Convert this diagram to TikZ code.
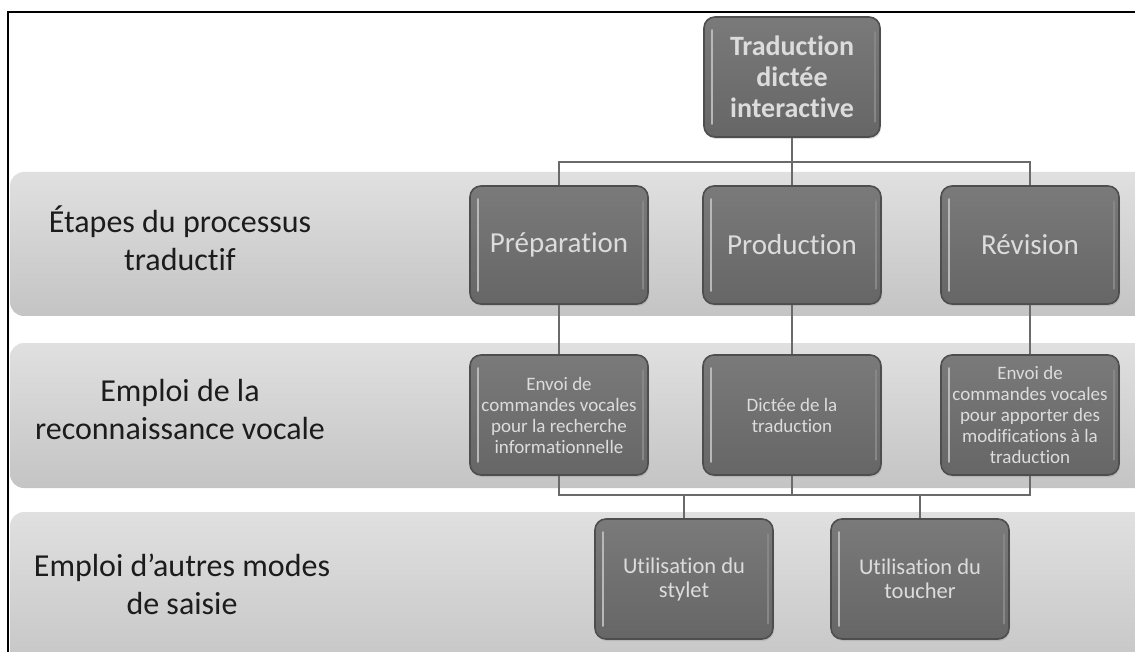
\documentclass[tikz,border=0pt]{standalone}
\usepackage{fontspec}
\setmainfont{Carlito}[Ligatures={NoCommon,NoContextual}]
\usetikzlibrary{shadows,calc}
\definecolor{boxtop}{HTML}{7A7A7A}
\definecolor{boxbot}{HTML}{666666}
\definecolor{boxedge}{HTML}{4E4E4E}
\definecolor{boxtext}{HTML}{DCDCDC}
\definecolor{hlcol}{HTML}{B8B8B8}
\definecolor{bandtop}{HTML}{E0E0E0}
\definecolor{bandbot}{HTML}{C4C4C4}
\definecolor{linkcol}{HTML}{6A6A6A}
\definecolor{labcol}{HTML}{1C1C1C}
\tikzset{
  unitbox/.style={rounded corners=11pt, draw=boxedge, line width=1.6pt,
    top color=boxtop, bottom color=boxbot, text=boxtext, align=center,
    inner sep=2pt, minimum width=178pt, minimum height=120pt,
    drop shadow={opacity=0.25, shadow xshift=1pt, shadow yshift=-2pt}},
  bigtext/.style={font=\fontsize{28}{31}\selectfont\bfseries},
  midtext/.style={font=\fontsize{29}{33}\selectfont},
  smalltext/.style={font=\fontsize{19}{21}\selectfont},
  lowtext/.style={font=\fontsize{22.5}{24}\selectfont},
  bandbox/.style={rounded corners=14pt, top color=bandtop, bottom color=bandbot, draw=none},
  bandlabel/.style={align=center, text=labcol, font=\fontsize{32}{38}\selectfont},
  link/.style={draw=linkcol, line width=2.4pt},
  hl/.style={draw=hlcol, line width=2.4pt, line cap=round},
  hlr/.style={draw=hlcol!40!boxbot, line width=1.6pt, line cap=round},
}
\begin{document}
\begin{tikzpicture}[x=1pt,y=-1pt]
\useasboundingbox (0,0) rectangle (1135,652);
\clip (0,0) rectangle (1135,652);
\fill[white] (0,0) rectangle (1135,652);
% bands
\path[bandbox] (10,172) rectangle (1160,316);
\path[bandbox] (10,343) rectangle (1160,488);
\path[bandbox] (10,512) rectangle (1160,680);
% frame
\draw[black, line width=2.2pt] (8,680) -- (8,12) -- (1140,12);
% band labels
\node[bandlabel] (l1) at (180,238) {Étapes du processus\\traductif};
\node[bandlabel] (l2) at (180,410) {Emploi de la\\reconnaissance vocale};
\node[bandlabel] (l3) at (182,584) {Emploi d’autres modes\\de saisie};
% nodes
\node[unitbox, bigtext, minimum width=176pt] (top) at (792,77) {Traduction\\dictée\\interactive};
\node[unitbox, midtext, minimum height=118pt] (prep) at (559,245) {Préparation};
\node[unitbox, midtext, minimum height=118pt] (prod) at (792,245) {Production};
\node[unitbox, midtext, minimum height=118pt] (rev) at (1030,245) {Révision};
\node[unitbox, smalltext] (env1) at (559,415) {Envoi de\\commandes vocales\\pour la recherche\\informationnelle};
\node[unitbox, smalltext] (dict) at (792,415) {Dictée de la\\traduction};
\node[unitbox, smalltext] (env3) at (1030,415) {Envoi de\\commandes vocales\\pour apporter des\\modifications à la\\traduction};
\node[unitbox, lowtext] (styl) at (684,579) {Utilisation du\\stylet};
\node[unitbox, lowtext] (touch) at (920,579) {Utilisation du\\toucher};
% highlights
\foreach \n in {top,prep,prod,rev,env1,dict,env3,styl,touch}{
  \draw[hl] ([xshift=9pt,yshift=-14pt]\n.north west) -- ([xshift=9pt,yshift=14pt]\n.south west);
  \draw[hlr] ([xshift=-6pt,yshift=-16pt]\n.north east) -- ([xshift=-6pt,yshift=16pt]\n.south east);
}
% connectors
\coordinate (b1) at (792,162);
\coordinate (b2) at (792,495);
\draw[link] (top.south) -- (b1);
\draw[link] (prep.north) |- (b1) -| (rev.north);
\draw[link] (prod.north) -- (b1);
\draw[link] (prep.south) -- (env1.north);
\draw[link] (prod.south) -- (dict.north);
\draw[link] (rev.south) -- (env3.north);
\draw[link] (env1.south) |- (b2) -| (env3.south);
\draw[link] (dict.south) -- (b2);
\draw[link] (styl.north) -- (styl.north |- b2);
\draw[link] (touch.north) -- (touch.north |- b2);
\end{tikzpicture}
\end{document}
